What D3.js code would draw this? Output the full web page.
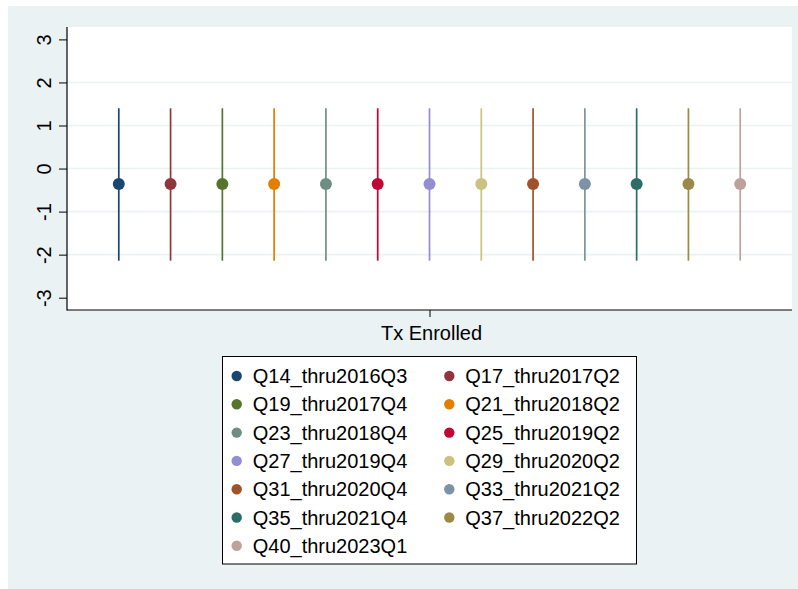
<!DOCTYPE html>
<html>
<head>
<meta charset="utf-8">
<script src="https://cdn.jsdelivr.net/npm/d3@7"></script>
<style>
  html, body { margin: 0; padding: 0; background: #ffffff; }
  svg { display: block; }
  text { font-family: "Liberation Sans", Arial, Helvetica, sans-serif; fill: #000; }
</style>
</head>
<body>
<svg id="chart" width="798" height="589"></svg>
<script>
// Coefficient estimates and 95% CIs for the "Tx Enrolled" term, one per sample window
const seriesNames = [
  "Q14_thru2016Q3", "Q17_thru2017Q2", "Q19_thru2017Q4", "Q21_thru2018Q2",
  "Q23_thru2018Q4", "Q25_thru2019Q2", "Q27_thru2019Q4", "Q29_thru2020Q2",
  "Q31_thru2020Q4", "Q33_thru2021Q2", "Q35_thru2021Q4", "Q37_thru2022Q2",
  "Q40_thru2023Q1"
];
const estimates = [-0.36, -0.36, -0.36, -0.36, -0.36, -0.36, -0.36, -0.36, -0.36, -0.36, -0.36, -0.36, -0.36];
const ciLower   = [-2.14, -2.14, -2.14, -2.14, -2.14, -2.14, -2.14, -2.14, -2.14, -2.14, -2.14, -2.14, -2.14];
const ciUpper   = [1.40, 1.40, 1.40, 1.40, 1.40, 1.40, 1.40, 1.40, 1.40, 1.40, 1.40, 1.40, 1.40];
const seriesColors = [
  "#1a476f", "#90353b", "#55752f", "#e37e00", "#6e8e84", "#c10534", "#938dd2",
  "#cac27e", "#a0522d", "#7b92a8", "#2d6d66", "#9c8847", "#bfa19c"
];
const categoryLabels = ["Tx Enrolled"];
const yTicks = [-3, -2, -1, 0, 1, 2, 3];
const gridTicks = [-2, -1, 0, 1, 2];

const svg = d3.select("#chart");
const W = 798, H = 589;
const bg = "#eaf2f3";
const fontSize = "20px";

// Graph region background
svg.append("rect").attr("x", 8).attr("y", 6).attr("width", W - 8).attr("height", H - 6).attr("fill", bg);

// Plot region
const plot = { left: 67, right: 792, top: 27, bottom: 310 };
svg.append("rect")
  .attr("x", plot.left).attr("y", plot.top)
  .attr("width", plot.right - plot.left).attr("height", plot.bottom - plot.top)
  .attr("fill", "#ffffff");

const y = d3.scaleLinear().domain([-3, 3]).range([297.7, 39.4]);
const x = d3.scaleLinear().domain([0.5, 1.5]).range([plot.left, plot.right]);

// Grid lines
svg.append("g").selectAll("line").data(gridTicks).join("line")
  .attr("x1", plot.left).attr("x2", plot.right)
  .attr("y1", d => y(d)).attr("y2", d => y(d))
  .attr("stroke", bg).attr("stroke-width", 1.6);

// Each model is offset around the category position
const n = seriesNames.length;
const offset = i => (i - (n - 1) / 2) / 14;
const rows = seriesNames.map((name, i) => ({
  name, est: estimates[i], lo: ciLower[i], hi: ciUpper[i], color: seriesColors[i], xv: 1 + offset(i)
}));

const marks = svg.append("g");
marks.selectAll("line").data(rows).join("line")
  .attr("x1", d => x(d.xv)).attr("x2", d => x(d.xv))
  .attr("y1", d => y(d.lo)).attr("y2", d => y(d.hi))
  .attr("stroke", d => d.color).attr("stroke-width", 1.7);
marks.selectAll("circle").data(rows).join("circle")
  .attr("cx", d => x(d.xv)).attr("cy", d => y(d.est))
  .attr("r", 6).attr("fill", d => d.color);

// Y axis
const yAxis = svg.append("g").attr("transform", `translate(${plot.left},0)`)
  .call(d3.axisLeft(y).tickValues(yTicks).tickSize(8).tickSizeOuter(0).tickFormat(d3.format("d")));
yAxis.select(".domain").remove();
yAxis.selectAll(".tick line").attr("stroke", "#000").attr("stroke-width", 1);
yAxis.selectAll(".tick text")
  .attr("x", null).attr("dy", null)
  .attr("transform", "translate(-16,0) rotate(-90)")
  .attr("text-anchor", "middle")
  .style("font-size", fontSize)
  .text(d => d < 0 ? "-" + Math.abs(d) : d);
svg.append("line")
  .attr("x1", plot.left).attr("x2", plot.left).attr("y1", plot.top).attr("y2", plot.bottom + 0.5)
  .attr("stroke", "#000").attr("stroke-width", 1.2);

// X axis
const xAxis = svg.append("g").attr("transform", `translate(0,${plot.bottom})`)
  .call(d3.axisBottom(x).tickValues([1]).tickSize(7).tickSizeOuter(0).tickFormat(() => categoryLabels[0]));
xAxis.select(".domain").remove();
xAxis.selectAll(".tick line").attr("stroke", "#000").attr("stroke-width", 1);
xAxis.selectAll(".tick text").attr("dy", null).attr("y", 30).attr("x", 1.5).style("font-size", fontSize);
svg.append("line")
  .attr("x1", plot.left).attr("x2", plot.right).attr("y1", plot.bottom).attr("y2", plot.bottom)
  .attr("stroke", "#000").attr("stroke-width", 1.2);

// Legend
const lg = { left: 222.5, top: 356.5, right: 636.5, bottom: 564 };
svg.append("rect")
  .attr("x", lg.left).attr("y", lg.top)
  .attr("width", lg.right - lg.left).attr("height", lg.bottom - lg.top)
  .attr("fill", "#ffffff").attr("stroke", "#000").attr("stroke-width", 1);
const colX = [236.7, 449.3];
const rowY0 = 376, rowStep = 28.3;
const items = svg.append("g").selectAll("g").data(rows).join("g")
  .attr("transform", (d, i) => `translate(${colX[i % 2]},${rowY0 + Math.floor(i / 2) * rowStep})`);
items.append("circle").attr("r", 5.2).attr("fill", d => d.color);
items.append("text").attr("x", 16).attr("y", 7).style("font-size", fontSize).text(d => d.name);
</script>
</body>
</html>
